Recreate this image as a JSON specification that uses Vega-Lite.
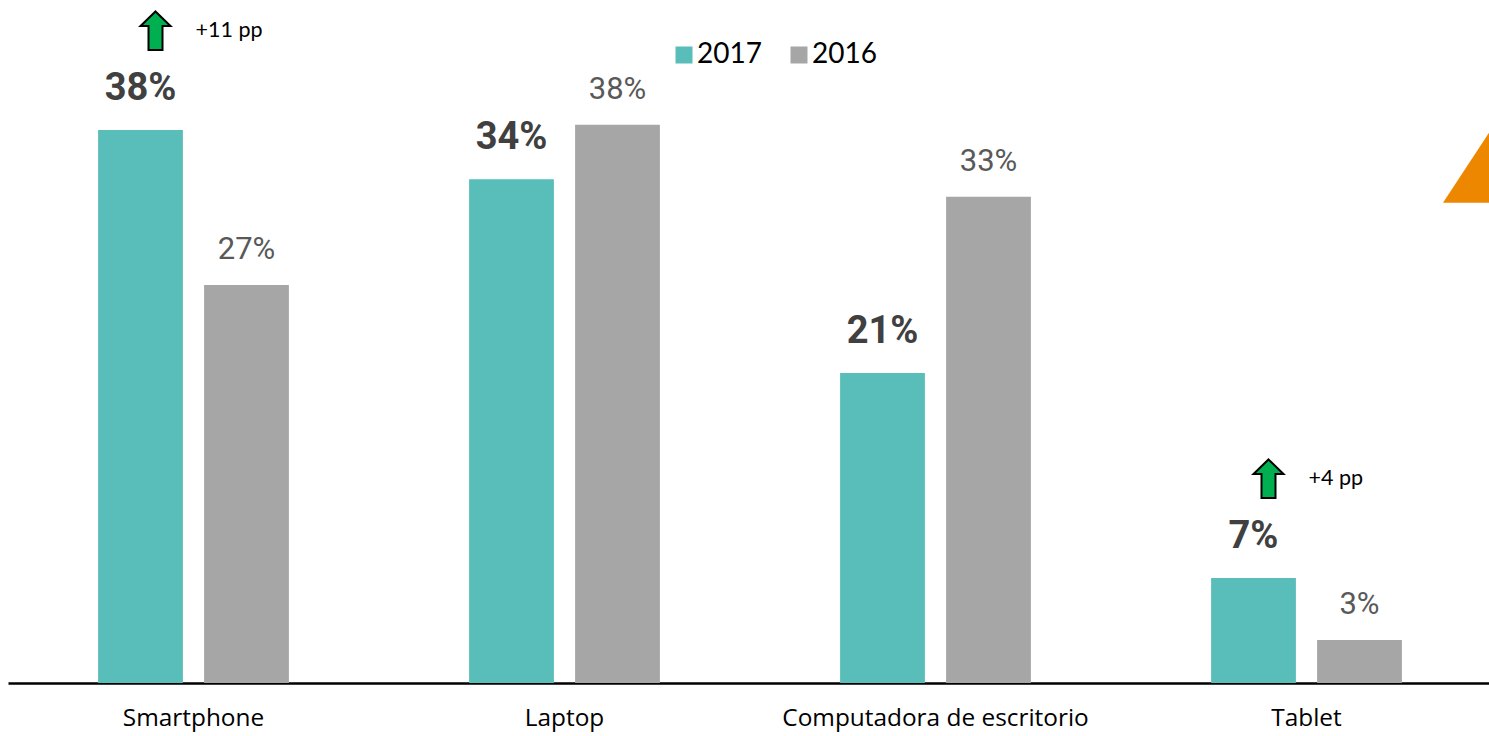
{
  "$schema": "https://vega.github.io/schema/vega-lite/v6.json",
  "width": 1484,
  "height": 683,
  "autosize": {"type": "none"},
  "padding": {"left": 8, "top": 0, "right": 0, "bottom": 53},
  "background": "white",
  "config": {"view": {"stroke": null}},
  "data": {
    "values": [
      {"category": "Smartphone", "year": "2017", "value": 37.65, "label": "38%", "change": "+11 pp"},
      {"category": "Smartphone", "year": "2016", "value": 27.1, "label": "27%"},
      {"category": "Laptop", "year": "2017", "value": 34.3, "label": "34%"},
      {"category": "Laptop", "year": "2016", "value": 38.0, "label": "38%"},
      {"category": "Computadora de escritorio", "year": "2017", "value": 21.1, "label": "21%"},
      {"category": "Computadora de escritorio", "year": "2016", "value": 33.1, "label": "33%"},
      {"category": "Tablet", "year": "2017", "value": 7.15, "label": "7%", "change": "+4 pp"},
      {"category": "Tablet", "year": "2016", "value": 2.93, "label": "3%"}
    ]
  },
  "encoding": {
    "x": {
      "field": "category",
      "type": "nominal",
      "sort": null,
      "scale": {"paddingInner": 0, "paddingOuter": 0},
      "axis": {
        "title": null,
        "orient": "bottom",
        "domain": true,
        "domainColor": "#000000",
        "domainWidth": 2.5,
        "ticks": false,
        "grid": false,
        "labelAngle": 0,
        "labelLimit": 0,
        "labelFont": "Open Sans",
        "labelFontSize": 24.4,
        "labelColor": "#000000",
        "labelPadding": 23
      }
    },
    "xOffset": {
      "field": "year",
      "type": "nominal",
      "scale": {"domain": ["2017", "2016"], "paddingInner": 0.2, "paddingOuter": 0.85}
    },
    "y": {
      "field": "value",
      "type": "quantitative",
      "scale": {"domain": [0, 46.5], "nice": false, "zero": true},
      "axis": null
    }
  },
  "layer": [
    {
      "mark": {"type": "bar"},
      "encoding": {
        "color": {
          "field": "year",
          "type": "nominal",
          "scale": {"domain": ["2017", "2016"], "range": ["#59BEB9", "#A6A6A6"]},
          "legend": {
            "title": null,
            "orient": "none",
            "legendX": 662,
            "legendY": 41,
            "direction": "horizontal",
            "symbolType": "square",
            "symbolSize": 289,
            "symbolStrokeWidth": 0,
            "labelFont": "Lato",
            "labelFontSize": 28,
            "labelColor": "#000000",
            "labelOffset": -1,
            "columnPadding": 23,
            "padding": 0
          }
        }
      }
    },
    {
      "transform": [{"filter": "datum.year === '2017'"}],
      "mark": {"type": "text", "font": "Roboto", "fontWeight": "bold", "fontSize": 38, "color": "#404040", "baseline": "alphabetic", "align": "center", "dy": -30},
      "encoding": {"text": {"field": "label"}}
    },
    {
      "transform": [{"filter": "datum.year === '2016'"}],
      "mark": {"type": "text", "font": "Roboto", "fontSize": 31, "color": "#595959", "baseline": "alphabetic", "align": "center", "dy": -25.5},
      "encoding": {"text": {"field": "label"}}
    },
    {
      "transform": [{"filter": "datum.change"}],
      "mark": {
        "type": "point",
        "shape": "M0.15,-1.185 L0.30,-1.04 L0.22,-1.04 L0.22,-0.80 L0.08,-0.80 L0.08,-1.04 L0.00,-1.04 Z",
        "size": 40000,
        "filled": true,
        "fill": "#00B050",
        "stroke": "#000000",
        "strokeWidth": 2,
        "opacity": 1,
        "fillOpacity": 1
      },
      "encoding": {}
    },
    {
      "transform": [{"filter": "datum.change"}],
      "mark": {"type": "text", "font": "Lato", "fontSize": 21.5, "color": "#000000", "align": "left", "baseline": "alphabetic", "dx": 55, "dy": -92.5},
      "encoding": {"text": {"field": "change"}}
    },
    {
      "transform": [{"filter": "datum.category === 'Tablet' && datum.year === '2016'"}],
      "mark": {
        "type": "point",
        "shape": "M0.835,0 L1.295,-0.70 L1.6,-0.70 L1.6,0 Z",
        "size": 40000,
        "filled": true,
        "fill": "#EE8700",
        "stroke": "#EE8700",
        "strokeWidth": 0,
        "opacity": 1,
        "fillOpacity": 1
      },
      "encoding": {"y": {"datum": 32.7}}
    }
  ]
}
